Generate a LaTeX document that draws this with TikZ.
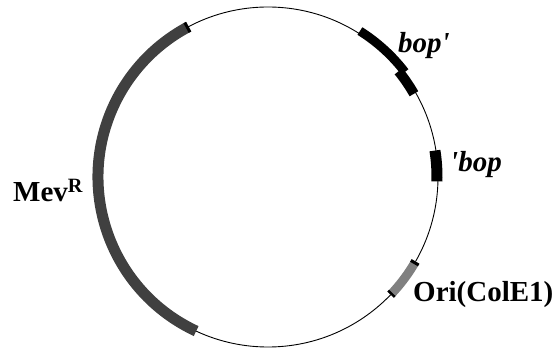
\documentclass[tikz,border=0pt]{standalone}
\usepackage{fontspec}
\setmainfont{Liberation Serif}
\begin{document}
\begin{tikzpicture}[x=1pt,y=1pt,
  backbone/.style={line width=0.9pt, black},
  gene/.style={line width=#1},
  label/.style={inner sep=0pt, anchor=base west, font=\fontsize{29}{29}\selectfont\bfseries}]
\useasboundingbox (0,0) rectangle (556,348);
\coordinate (c) at (268,171);
% plasmid backbone
\draw[backbone] (c) circle[radius=170];
% Mev resistance marker
\draw[gene=11pt, color={rgb,255:red,64;green,64;blue,64}]
  ([shift={(c)}]245:170) arc[start angle=245, end angle=118, radius=170];
\draw[gene=11pt, black]
  ([shift={(c)}]118.8:170) arc[start angle=118.8, end angle=117.8, radius=170];
% bop' fragment
\draw[gene=9pt, black]
  ([shift={(c)}]57.8:172.5) arc[start angle=57.8, end angle=37.5, radius=172.5];
\draw[gene=10pt, black]
  ([shift={(c)}]39:168) arc[start angle=39, end angle=29.7, radius=168];
% 'bop fragment
\draw[gene=11pt, black]
  ([shift={(c)}]9:169) arc[start angle=9, end angle=-1.5, radius=169];
% ColE1 origin
\draw[gene=9pt, color={rgb,255:red,128;green,128;blue,128}]
  ([shift={(c)}]-43.8:170) arc[start angle=-43.8, end angle=-29.8, radius=170];
\draw[gene=9pt, black]
  ([shift={(c)}]-43.8:170) arc[start angle=-43.8, end angle=-43.0, radius=170];
\draw[gene=9pt, black]
  ([shift={(c)}]-30.8:170) arc[start angle=-30.8, end angle=-29.8, radius=170];
% labels
\node[label] (mev) at (13,146) {Mev\textsuperscript{R}};
\node[label] (bopl) at (398,295) {\itshape bop\textquotesingle};
\node[label] (bopr) at (450,176) {\itshape \textquotesingle bop};
\node[label] (ori) at (413,47) {Ori(ColE1)};
\end{tikzpicture}
\end{document}
